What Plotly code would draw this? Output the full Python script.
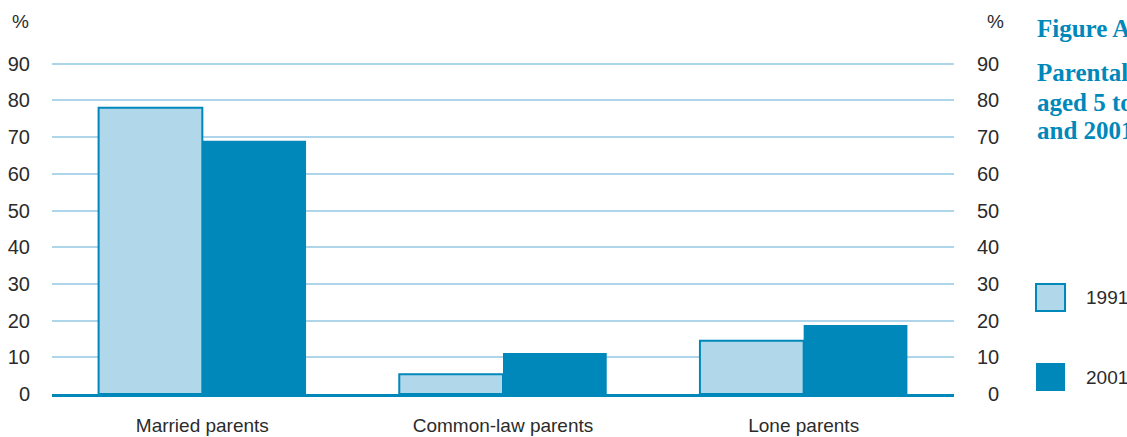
import plotly.graph_objects as go

# Data
categories = ["Married parents", "Common-law parents", "Lone parents"]
years = ["1991", "2001"]
values_1991 = [78, 5.4, 14.5]
values_2001 = [69, 11.2, 18.8]
y_ticks = [0, 10, 20, 30, 40, 50, 60, 70, 80, 90]

DARK = "#0088bb"
LIGHT = "#b0d8ea"
GRID = "#aed6ea"
TEXT = "#2b2b2b"
FONT = "Liberation Sans Narrow, Arial Narrow, Liberation Sans, sans-serif"
FS = 19

# Plot area in pixels
W, H = 1127, 437
ML, MR, MT, MB = 52, 173, 27, 43
PW, PH = W - ML - MR, H - MT - MB


def px_x(x):
    return (x - ML) / PW


def px_y(y):
    return 1 - (y - MT) / PH


fig = go.Figure()
fig.add_trace(go.Bar(
    x=categories, y=values_1991, name=years[0],
    marker=dict(color=LIGHT, line=dict(color=DARK, width=2)),
))
fig.add_trace(go.Bar(
    x=categories, y=values_2001, name=years[1],
    marker=dict(color=DARK, line=dict(color=DARK, width=0)),
))

fig.update_layout(
    width=W, height=H,
    margin=dict(l=ML, r=MR, t=MT, b=MB, autoexpand=False),
    paper_bgcolor="white", plot_bgcolor="white",
    barmode="group", bargap=0.31, bargroupgap=0,
    showlegend=False,
    font=dict(family=FONT, size=FS, color=TEXT),
)
fig.update_xaxes(
    automargin=False,
    showgrid=False, showline=True, linecolor=DARK, linewidth=3,
    ticks="", ticklabelstandoff=12,
    tickfont=dict(family=FONT, size=FS, color=TEXT),
)
fig.update_yaxes(
    automargin=False,
    range=[0, 100], tickvals=y_ticks,
    showgrid=True, gridcolor=GRID, gridwidth=2,
    zeroline=False, showline=False, ticks="",
    ticklabelstandoff=21,
    tickfont=dict(family=FONT, size=FS + 1, color=TEXT),
)

# Right-hand axis labels, right-aligned
for v in y_ticks:
    fig.add_annotation(
        x=px_x(1001), xref="paper", y=v, yref="y", text=str(v), showarrow=False,
        xanchor="right", yanchor="middle",
        font=dict(family=FONT, size=FS + 1, color=TEXT),
    )

# Unit labels
for xp in (10, 985):
    fig.add_annotation(x=px_x(xp), xref="paper", y=px_y(22), yref="paper",
                       text="%", showarrow=False, xanchor="left", yanchor="middle",
                       font=dict(family=FONT, size=FS, color=TEXT))

# Title block on the right
TITLE_FONT = dict(family="Liberation Serif, DejaVu Serif, serif", size=25, color=DARK)
title_lines = [("<b>Figure A</b>", 28), ("<b>Parental</b>", 72),
               ("<b>aged 5 to</b>", 102), ("<b>and 2001</b>", 130)]
for txt, ypix in title_lines:
    fig.add_annotation(x=px_x(1035), xref="paper", y=px_y(ypix), yref="paper",
                       text=txt, showarrow=False, xanchor="left", yanchor="middle",
                       font=TITLE_FONT)

# Legend swatches and labels
legend_items = [(years[0], LIGHT, 284, 311), (years[1], DARK, 363, 391)]
for label, color, y0, y1 in legend_items:
    fig.add_shape(
        type="rect", xref="paper", yref="paper",
        x0=px_x(1036), x1=px_x(1065), y0=px_y(y1), y1=px_y(y0),
        fillcolor=color, line=dict(color=DARK, width=2 if color == LIGHT else 0),
    )
    fig.add_annotation(
        x=px_x(1084), xref="paper", y=px_y((y0 + y1) / 2), yref="paper",
        text=label, showarrow=False, xanchor="left", yanchor="middle",
        font=dict(family=FONT, size=FS, color=TEXT),
    )

fig.write_html("out.html")
